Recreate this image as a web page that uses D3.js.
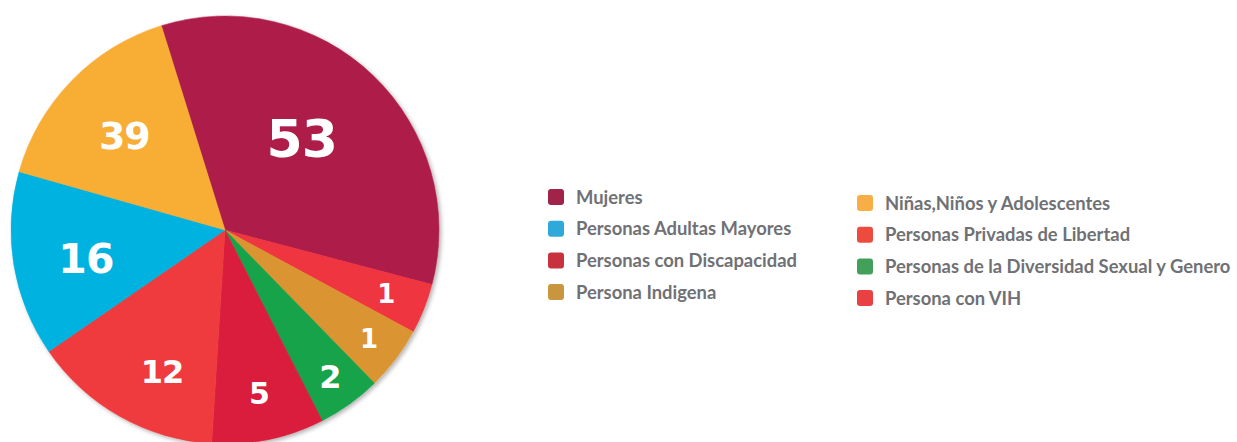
<!DOCTYPE html>
<html>
<head>
<meta charset="utf-8">
<script src="https://cdn.jsdelivr.net/npm/d3@7"></script>
<style>
  html, body { margin: 0; padding: 0; background: #fff; }
  svg { display: block; }
</style>
</head>
<body>
<script>
// slices in clockwise order, starting at the top-left edge of "Mujeres"
var categories = ["Mujeres", "Persona con VIH", "Persona Indigena", "Personas de la Diversidad Sexual y Genero",
                  "Personas con Discapacidad", "Personas Privadas de Libertad", "Personas Adultas Mayores",
                  "Niñas,Niños y Adolescentes"];
var counts = [53, 1, 1, 2, 5, 12, 16, 39];
// slice sizes as drawn (percent of the circle)
var shares = [33.9, 3.8, 4.8, 4.8, 8.5, 14.4, 14.0, 15.8];

// legend in its two columns
var legendLeft = ["Mujeres", "Personas Adultas Mayores", "Personas con Discapacidad", "Persona Indigena"];
var legendRight = ["Niñas,Niños y Adolescentes", "Personas Privadas de Libertad",
                   "Personas de la Diversidad Sexual y Genero", "Persona con VIH"];

var sliceColor = {
  "Mujeres": "#ae1c4a",
  "Persona con VIH": "#ee3440",
  "Persona Indigena": "#db9430",
  "Personas de la Diversidad Sexual y Genero": "#13a34a",
  "Personas con Discapacidad": "#da1f3c",
  "Personas Privadas de Libertad": "#ef3b3d",
  "Personas Adultas Mayores": "#00b2df",
  "Niñas,Niños y Adolescentes": "#f8ad35"
};
var legendColor = {
  "Mujeres": "#a0244a",
  "Persona con VIH": "#e84043",
  "Persona Indigena": "#c9963f",
  "Personas de la Diversidad Sexual y Genero": "#43a05a",
  "Personas con Discapacidad": "#c8323f",
  "Personas Privadas de Libertad": "#ee4b3f",
  "Personas Adultas Mayores": "#2ea9d9",
  "Niñas,Niños y Adolescentes": "#f7ae47"
};
// label radius, angle nudge (deg) and font size per slice (same order as categories)
var labelStyle = [
  { r: 120, da: -4, size: 52 }, { r: 173, da: 0, size: 26 }, { r: 180, da: 0, size: 26 },
  { r: 180, da: 0, size: 32 }, { r: 167, da: 0, size: 30 }, { r: 155, da: -5.5, size: 32 },
  { r: 142, da: -2.2, size: 41 }, { r: 138, da: -1.1, size: 38 }
];

var width = 1237, height = 442,
    cx = 225, cy = 230, radius = 214;

var svg = d3.select("body").append("svg").attr("width", width).attr("height", height);

var defs = svg.append("defs");
var shadow = defs.append("filter").attr("id", "shadow")
  .attr("x", "-10%").attr("y", "-10%").attr("width", "120%").attr("height", "120%");
shadow.append("feDropShadow").attr("dx", 2).attr("dy", 2).attr("stdDeviation", 2)
  .attr("flood-color", "#000").attr("flood-opacity", 0.3);

var data = categories.map(function (c, i) {
  return { name: c, count: counts[i], share: shares[i], style: labelStyle[i] };
});

var start = -17.3 * Math.PI / 180;
var pie = d3.pie().sort(null).value(function (d) { return d.share; })
  .startAngle(start).endAngle(start + 2 * Math.PI);
var arc = d3.arc().innerRadius(0).outerRadius(radius);

var g = svg.append("g").attr("transform", "translate(" + cx + "," + cy + ")");
var arcs = pie(data);

g.append("g").attr("filter", "url(#shadow)")
  .selectAll("path").data(arcs).enter().append("path")
  .attr("d", arc)
  .attr("fill", function (d) { return sliceColor[d.data.name]; })
  .attr("stroke", function (d) { return sliceColor[d.data.name]; })
  .attr("stroke-width", 0.5);

g.selectAll("text.val").data(arcs).enter().append("text")
  .attr("class", "val")
  .attr("transform", function (d) {
    var s = d.data.style,
        a = (d.startAngle + d.endAngle) / 2 + s.da * Math.PI / 180;
    return "translate(" + (Math.sin(a) * s.r) + "," + (-Math.cos(a) * s.r + 0.3645 * s.size) + ")";
  })
  .attr("text-anchor", "middle")
  .attr("font-family", "'DejaVu Sans', Verdana, sans-serif")
  .attr("font-weight", "bold")
  .attr("font-size", function (d) { return d.data.style.size; })
  .attr("letter-spacing", -1)
  .attr("fill", "#fff")
  .text(function (d) { return d.data.count; });

// legend
var legendFont = "Lato, 'Open Sans', sans-serif";
function drawLegend(items, x, y0) {
  var y = d3.scalePoint().domain(items).range([y0, y0 + 3 * 31.7]);
  var row = svg.append("g").selectAll("g").data(items).enter().append("g")
    .attr("transform", function (d) { return "translate(" + x + "," + y(d) + ")"; });
  row.append("rect").attr("x", 0).attr("y", -8).attr("width", 16).attr("height", 16)
    .attr("rx", 3).attr("fill", function (d) { return legendColor[d]; });
  row.append("text").attr("x", 28).attr("y", 6.5)
    .attr("font-family", legendFont).attr("font-weight", "bold").attr("font-size", 18.4)
    .attr("fill", "#6f7175")
    .text(function (d) { return d; });
}
drawLegend(legendLeft, 548, 197);
drawLegend(legendRight, 857, 203);
</script>
</body>
</html>
